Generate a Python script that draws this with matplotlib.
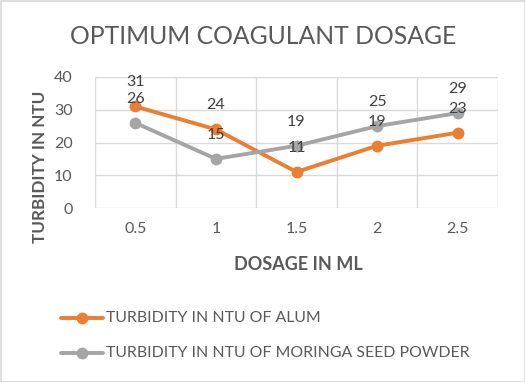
import matplotlib
matplotlib.use("Agg")
import matplotlib.pyplot as plt
from matplotlib.patches import Rectangle
from matplotlib.lines import Line2D

categories = ["0.5", "1", "1.5", "2", "2.5"]
alum = [31, 24, 11, 19, 23]
moringa = [26, 15, 19, 25, 29]
series_names = ["TURBIDITY IN NTU OF ALUM", "TURBIDITY IN NTU OF MORINGA SEED POWDER"]
yticks = [0, 10, 20, 30, 40]

plt.rcParams['font.family'] = ['Lato', 'DejaVu Sans']
W, H = 525, 382
fig = plt.figure(figsize=(W/100, H/100), dpi=100)
fig.patch.set_facecolor('white')
fig.add_artist(Rectangle((0.5/W, 0.5/H), 1-1/W, 1-1/H, transform=fig.transFigure,
                         fill=False, edgecolor='#d9d9d9', linewidth=1.2))

left, right, top, bottom = 95, 498, 77, 208
ax = fig.add_axes([left/W, 1-bottom/H, (right-left)/W, (bottom-top)/H])
ax.set_xlim(-0.5, len(categories)-0.5)
ax.set_ylim(0, 40)
ax.set_yticks(yticks)
ax.set_xticks(range(len(categories)))
ax.set_xticklabels(categories)
for v in [i+0.5 for i in range(-1, len(categories))]:
    ax.axvline(v, color='#d9d9d9', lw=1, zorder=0)
for y in yticks:
    ax.axhline(y, color='#d9d9d9', lw=1, zorder=0)
for s in ax.spines.values():
    s.set_visible(False)
ax.tick_params(length=0, labelsize=11.5, labelcolor='#595959')
ax.tick_params(axis='x', pad=10)
ax.tick_params(axis='y', pad=16)

colors = ['#ED7D31', '#A5A5A5']
x = list(range(len(categories)))
for data, c, name in zip([alum, moringa], colors, series_names):
    ax.plot(x, data, color=c, lw=2.8, marker='o', markersize=7.5, label=name, zorder=3,
            clip_on=False, solid_capstyle='round')
    for xi, yi in zip(x, data):
        ax.annotate(str(yi), (xi, yi), xytext=(0, 24), textcoords='offset pixels',
                    ha='center', va='center', fontsize=11.5, color='#404040', zorder=5)

fig.text(263/W, 1-37/H, "OPTIMUM COAGULANT DOSAGE", ha='center', va='center',
         fontsize=17.8, color='#595959')
fig.text(298/W, 1-264/H, "DOSAGE IN ML", ha='center', va='center', fontsize=13,
         fontweight='bold', color='#595959')
fig.text(40/W, 1-167/H, "TURBIDITY IN NTU", ha='center', va='center', fontsize=12.3,
         fontweight='bold', color='#595959', rotation=90)

for i, (c, name) in enumerate(zip(colors, series_names)):
    yy = 1 - (318 + 35*i)/H
    fig.add_artist(Line2D([61/W, 103/W], [yy, yy], color=c, lw=2.8, transform=fig.transFigure,
                          solid_capstyle='round'))
    fig.add_artist(Line2D([82/W], [yy], color=c, marker='o', markersize=7.5,
                          transform=fig.transFigure))
    fig.text(106/W, yy, name, ha='left', va='center', fontsize=11.4, color='#595959')

fig.savefig("out.png", dpi=100, facecolor='white')
